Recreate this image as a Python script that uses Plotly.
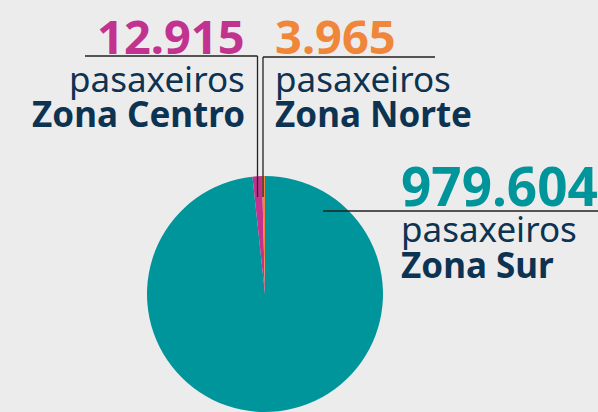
import plotly.graph_objects as go

# data
zonas = ["Zona Sur", "Zona Centro", "Zona Norte"]
pasaxeiros = [979604, 12915, 3965]
etiquetas_num = ["979.604", "12.915", "3.965"]
cores = ["#00959a", "#c2338f", "#f0863a"]

W, H = 598, 412
NAVY = "#0d3352"
FONT = "Noto Sans"


def px(x):
    return x / W


def py(y):
    return 1 - y / H


fig = go.Figure(go.Pie(
    labels=zonas,
    values=pasaxeiros,
    marker=dict(colors=cores, line=dict(width=0)),
    sort=False,
    direction="clockwise",
    rotation=0,
    textinfo="none",
    hoverinfo="label+value",
    showlegend=False,
    domain=dict(x=[px(147), px(383)], y=[0, 236 / H]),
))

# label blocks
bloques = {
    "Zona Sur": dict(x=399, anchor="left", ynum=185, ytxt=228, yzona=264, size=53),
    "Zona Centro": dict(x=247, anchor="right", ynum=36, ytxt=78, yzona=113, size=47),
    "Zona Norte": dict(x=273, anchor="left", ynum=36, ytxt=78, yzona=113, size=47),
}

for zona, num, cor in zip(zonas, etiquetas_num, cores):
    b = bloques[zona]
    common = dict(xref="paper", yref="paper", x=px(b["x"]), xanchor=b["anchor"],
                  yanchor="middle", showarrow=False)
    fig.add_annotation(text=f"<b>{num}</b>", y=py(b["ynum"]),
                       font=dict(family=FONT, size=b["size"], color=cor), **common)
    fig.add_annotation(text="pasaxeiros", y=py(b["ytxt"]),
                       font=dict(family=FONT, size=35, color=NAVY), **common)
    fig.add_annotation(text=f"<b>{zona}</b>", y=py(b["yzona"]),
                       font=dict(family=FONT, size=35, color=NAVY), **common)

# leader lines
lineas = [
    [(85, 56), (257.5, 56), (257.5, 197)],
    [(435, 57), (263, 57), (263, 197)],
    [(323, 211), (598, 211)],
]
for pts in lineas:
    for (x0, y0), (x1, y1) in zip(pts[:-1], pts[1:]):
        fig.add_shape(type="line", xref="paper", yref="paper",
                      x0=px(x0), y0=py(y0), x1=px(x1), y1=py(y1),
                      line=dict(color="#222222", width=1.3))

fig.update_layout(
    width=W, height=H,
    margin=dict(l=0, r=0, t=0, b=0),
    paper_bgcolor="#ececec",
    plot_bgcolor="#ececec",
)

fig.write_html("out.html", config={"displayModeBar": False},
               post_script="document.body.style.margin='0';")
